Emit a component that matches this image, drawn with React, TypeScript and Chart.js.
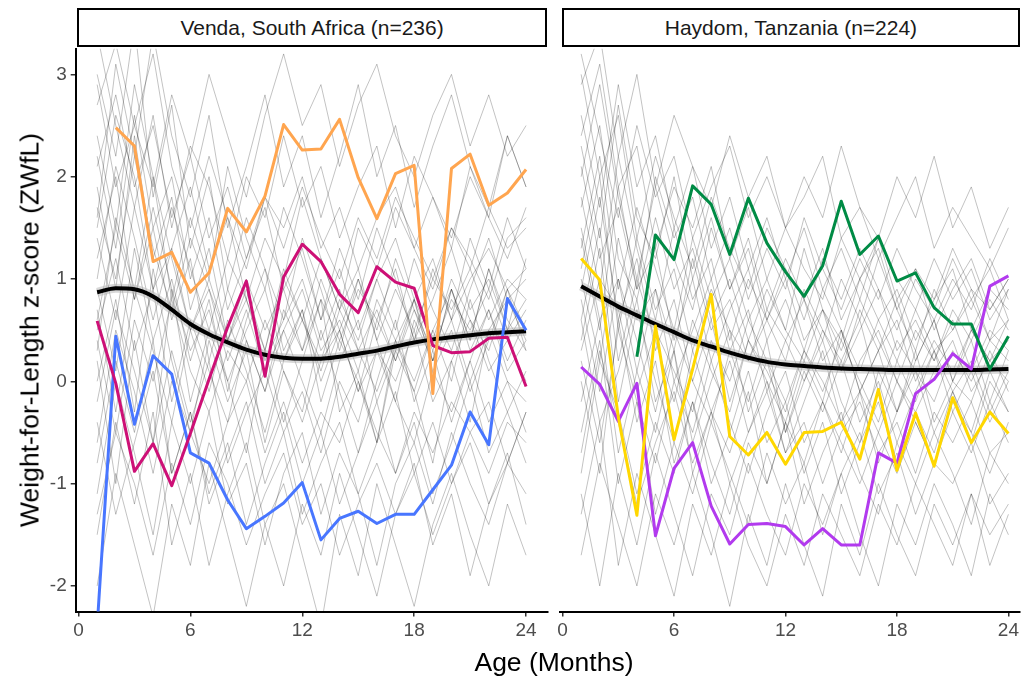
import React, { useEffect, useRef } from "react";
import { Chart, registerables } from "chart.js";
Chart.register(...registerables);

// ---------- data ----------
const months = [1, 2, 3, 4, 5, 6, 7, 8, 9, 10, 11, 12, 13, 14, 15, 16, 17, 18, 19, 20, 21, 22, 23, 24];
const xTicks = [0, 6, 12, 18, 24];
const yTicks = [-2, -1, 0, 1, 2, 3];
const panelTitles = ["Venda, South Africa (n=236)", "Haydom, Tanzania (n=224)"];
const xTitle = "Age (Months)";
const yTitle = "Weight-for-Length z-score (ZWfL)";

// Venda highlighted children
const vendaOrange = [null, 2.48, 2.30, 1.17, 1.26, 0.87, 1.06, 1.69, 1.46, 1.81, 2.51, 2.26, 2.27, 2.56, 1.99, 1.59, 2.03, 2.11, -0.12, 2.08, 2.22, 1.72, 1.84, 2.07];
const vendaMagenta = [0.59, -0.02, -0.88, -0.61, -1.02, -0.51, 0.02, 0.53, 0.98, 0.05, 1.02, 1.34, 1.17, 0.85, 0.67, 1.12, 0.97, 0.91, 0.35, 0.28, 0.29, 0.42, 0.43, -0.05];
const vendaBlue = [-2.4, 0.44, -0.42, 0.25, 0.07, -0.70, -0.80, -1.16, -1.44, -1.32, -1.19, -0.99, -1.55, -1.34, -1.27, -1.39, -1.30, -1.30, -1.06, -0.82, -0.30, -0.62, 0.81, 0.50];
const vendaSmooth = [0.87, 0.91, 0.90, 0.83, 0.70, 0.56, 0.46, 0.38, 0.31, 0.26, 0.23, 0.22, 0.22, 0.24, 0.27, 0.30, 0.34, 0.38, 0.41, 0.43, 0.45, 0.47, 0.48, 0.49];

// Haydom highlighted children
const haydomGreen = [null, null, null, 0.24, 1.43, 1.19, 1.91, 1.73, 1.24, 1.79, 1.35, 1.07, 0.83, 1.13, 1.76, 1.24, 1.42, 0.98, 1.06, 0.72, 0.56, 0.56, 0.12, 0.44];
const haydomYellow = [1.20, 0.99, -0.35, -1.31, 0.54, -0.57, 0.12, 0.85, -0.54, -0.72, -0.50, -0.81, -0.50, -0.49, -0.40, -0.76, -0.08, -0.87, -0.31, -0.83, -0.16, -0.60, -0.30, -0.51];
const haydomPurple = [0.14, -0.03, -0.39, -0.02, -1.51, -0.85, -0.60, -1.22, -1.59, -1.40, -1.39, -1.42, -1.60, -1.44, -1.60, -1.60, -0.70, -0.80, -0.12, 0.02, 0.27, 0.12, 0.93, 1.03];
const haydomSmooth = [0.93, 0.83, 0.73, 0.645, 0.56, 0.48, 0.40, 0.34, 0.28, 0.23, 0.19, 0.165, 0.15, 0.135, 0.125, 0.12, 0.115, 0.11, 0.11, 0.11, 0.11, 0.11, 0.115, 0.12];

// representative background trajectories (estimated)
const vendaGrey = [
  [2.1, 2.8, 1.9, 2.5, 1.6, 2.2, 1.4, 1.9, 1.2, 1.8, 1.5, 2.0, 1.3, 1.7, 1.1, 1.6, 1.9, 1.3, 1.8, 1.4, 2.0, 1.6, 1.2, 1.7],
  [0.5, 1.2, 0.3, 0.9, -0.2, 0.6, 0.1, -0.4, 0.4, -0.1, 0.5, 0.0, -0.5, 0.2, 0.6, -0.2, 0.3, 0.8, 0.1, 0.5, -0.1, 0.4, 0.9, 0.3],
  [-0.8, 0.2, -0.5, 0.4, -0.9, -0.3, -1.1, -0.6, -1.4, -0.8, -0.3, -1.0, -0.5, -1.2, -0.7, -0.2, -0.9, -0.4, -1.1, -0.6, 0.0, -0.7, -0.3, -0.8],
  [1.6, 3.1, 2.2, 3.4, 2.4, 1.8, 2.6, 1.5, 2.1, 2.8, 1.9, 2.4, 1.6, 2.2, 2.9, 2.0, 2.5, 1.7, 2.3, 2.8, 2.1, 1.6, 2.4, 1.9],
  [0.9, 0.1, 1.3, 0.4, 1.0, 0.2, 0.8, -0.1, 0.6, 1.1, 0.3, 0.7, 0.0, 0.5, 1.0, 0.4, -0.2, 0.6, 0.2, 0.9, 0.4, 1.1, 0.5, 0.8],
  [-1.5, -0.4, -1.2, -0.3, -1.6, -0.9, -1.8, -1.1, -0.6, -1.4, -2.0, -1.2, -1.7, -0.9, -1.5, -2.1, -1.3, -0.8, -1.6, -1.1, -1.9, -1.2, -0.7, -1.4],
  [3.0, 2.2, 3.5, 1.8, 2.7, 1.3, 2.0, 0.9, 1.6, 1.1, 0.6, 1.4, 0.9, 0.3, 1.0, 0.5, 1.2, 0.7, 0.2, 0.9, 0.4, 1.1, 0.6, 0.3],
  [0.2, -1.0, 0.4, -0.6, 0.9, -0.2, 0.5, 0.0, -0.7, 0.3, -0.4, 0.2, 0.8, -0.3, 0.1, -0.6, 0.4, -0.1, -0.8, 0.2, -0.4, 0.5, 0.0, -0.5],
  [1.2, 2.0, 0.8, 1.5, 0.6, 1.2, 0.2, 0.9, 0.4, -0.1, 0.7, 0.3, 1.0, 0.5, -0.1, 0.6, 1.1, 0.4, 0.8, 1.3, 0.7, 1.0, 0.5, 1.2],
  [-2.0, -0.9, -1.6, -2.3, -1.2, -1.8, -0.8, -1.5, -2.2, -1.4, -1.0, -1.7, -2.4, -1.3, -1.9, -1.0, -1.6, -2.2, -1.4, -0.9, -1.5, -2.0, -1.2, -1.7],
  [2.4, 1.5, 2.9, 2.0, 0.8, 1.6, 1.0, 2.1, 1.4, 0.9, 1.7, 1.2, 0.6, 1.3, 0.8, 1.5, 1.0, 0.4, 1.1, 0.6, 1.4, 0.9, 1.6, 1.1],
  [0.0, 0.8, -0.3, 1.1, 0.2, -0.5, 0.4, -0.2, 0.3, -0.6, 0.1, -0.3, 0.5, -0.1, -0.7, 0.0, 0.6, -0.2, 0.3, -0.4, 0.2, 0.7, 0.1, 0.4],
  [1.9, 0.9, 2.4, 1.2, 1.8, 0.7, 1.3, 0.4, 0.9, 0.3, 1.1, 0.6, 0.2, 0.8, 0.4, 1.0, 0.5, 1.2, 0.7, 0.3, 0.9, 1.4, 0.8, 1.0],
  [-0.4, -1.3, -0.6, 0.1, -0.9, -0.3, -1.2, -0.7, -0.2, -1.0, -0.5, -1.3, -0.8, -0.4, -1.1, -0.6, -0.1, -0.9, -0.4, -1.0, -0.5, -0.2, -0.8, -0.3],
  [2.7, 3.3, 2.5, 1.9, 2.8, 2.2, 3.0, 2.4, 1.8, 2.6, 3.2, 2.5, 2.9, 2.1, 2.7, 3.1, 2.4, 2.0, 2.6, 3.0, 2.3, 2.8, 2.2, 2.5],
  [0.7, -0.3, 0.9, 0.3, -0.4, 0.5, -0.1, 0.6, 0.1, -0.5, 0.2, 0.7, -0.2, 0.4, 0.0, -0.6, 0.3, -0.1, 0.5, 0.0, 0.8, 0.2, -0.3, 0.1],
  [1.4, 0.6, 1.7, 0.9, 1.3, 1.9, 1.1, 1.6, 0.8, 1.4, 1.0, 1.8, 1.2, 0.7, 1.5, 1.1, 1.7, 1.3, 0.9, 1.5, 1.2, 0.8, 1.4, 1.6],
  [-1.1, 0.0, -0.7, -1.5, -0.4, -1.0, -0.3, -1.2, -0.8, -1.6, -0.9, -0.5, -1.3, -0.7, -1.1, -1.8, -1.0, -0.6, -1.2, -0.5, -1.0, -1.4, -0.8, -0.3],
  [0.3, 1.6, 0.9, 2.0, 1.2, 0.5, 1.0, 0.4, 0.8, 0.2, 0.6, 1.0, 0.4, 0.9, 0.3, 0.7, 0.2, 0.8, 0.4, 1.0, 0.6, 0.3, 0.9, 0.5],
  [3.4, 2.5, 1.7, 2.6, 1.5, 2.3, 1.9, 1.2, 2.0, 1.6, 2.4, 1.7, 2.1, 1.4, 1.9, 2.3, 1.5, 2.2, 1.8, 1.3, 2.1, 1.7, 2.4, 1.9],
  [1.0, 2.1, 1.4, 0.6, 1.3, 0.5, 0.9, 0.2, 0.7, 0.1, 0.5, 0.9, 0.3, 0.6, 0.1, 0.8, 0.4, 0.0, 0.5, 0.9, 0.3, 0.7, 0.2, 0.6],
  [2.2, 1.3, 2.6, 1.5, 2.0, 1.0, 1.6, 0.7, 1.2, 1.7, 0.9, 1.3, 0.6, 1.1, 0.5, 1.0, 1.4, 0.8, 1.2, 0.6, 1.0, 1.3, 0.9, 1.1],
  [-0.2, 0.7, 0.1, -0.6, 0.3, -0.4, 0.2, -0.8, -0.3, 0.1, -0.5, -0.1, -0.7, 0.0, -0.4, 0.3, -0.2, -0.6, 0.1, -0.3, 0.2, -0.4, 0.0, -0.2],
  [0.6, 1.5, 0.8, 1.7, 0.9, 0.3, 0.7, 0.0, 0.5, 0.9, 0.2, 0.6, 0.1, 0.7, 0.3, -0.1, 0.4, 0.8, 0.2, 0.6, 0.0, 0.5, 0.8, 0.4],
  [1.5, 2.6, 2.0, 0.9, 1.7, 1.1, 0.5, 1.2, 0.8, 0.3, 1.0, 0.6, 1.2, 0.7, 1.1, 0.4, 0.9, 0.5, 1.0, 0.7, 1.1, 0.6, 1.0, 0.8],
  [-1.3, -0.5, -1.0, -1.7, -0.8, -1.4, -0.6, -1.0, -1.6, -1.1, -0.7, -1.4, -1.0, -1.7, -1.2, -0.8, -1.3, -0.9, -1.5, -1.0, -0.6, -1.2, -0.8, -1.1],
  [2.9, 1.9, 2.5, 3.2, 2.1, 1.5, 2.2, 1.6, 1.1, 1.8, 1.3, 1.9, 1.4, 1.0, 1.6, 1.2, 1.8, 1.4, 1.0, 1.5, 1.1, 1.7, 1.3, 1.5],
  [0.4, -0.5, 0.6, 0.0, 0.8, 0.1, -0.3, 0.3, 0.0, 0.6, 0.1, -0.4, 0.2, 0.5, -0.1, 0.3, 0.0, 0.5, -0.2, 0.2, 0.6, 0.1, 0.4, 0.0],
  [1.7, 1.0, 2.2, 1.3, 0.7, 1.4, 0.9, 0.4, 1.0, 0.5, 0.9, 0.3, 0.8, 0.4, 0.9, 0.6, 0.2, 0.7, 0.3, 0.8, 0.5, 0.9, 0.4, 0.7],
  [-0.6, 0.5, -0.1, -0.9, 0.0, -0.5, -1.0, -0.4, 0.0, -0.7, -0.2, -0.8, -0.3, -0.6, 0.0, -0.5, -0.9, -0.3, -0.7, -0.2, -0.5, -0.9, -0.4, -0.6],
];
const haydomGrey = [
  [1.8, 0.9, 2.2, 1.3, 0.6, 1.5, 0.8, 1.2, 0.4, 1.0, 0.6, 0.2, 0.9, 0.5, 0.1, 0.7, 0.3, 0.8, 0.2, 0.6, 0.0, 0.5, 0.2, 0.4],
  [0.4, 1.3, -0.2, 0.7, 0.0, -0.6, 0.3, -0.3, 0.2, -0.5, 0.0, -0.7, -0.2, 0.3, -0.4, -0.1, -0.8, -0.3, 0.1, -0.5, -0.1, -0.6, 0.0, -0.3],
  [2.6, 1.7, 2.9, 1.9, 2.4, 1.5, 2.1, 1.3, 1.8, 1.1, 1.6, 1.0, 1.5, 0.9, 1.3, 0.8, 1.4, 1.0, 0.7, 1.2, 0.8, 1.1, 0.6, 0.9],
  [-0.5, 0.4, -1.0, -0.2, -1.3, -0.6, -1.1, -0.4, -0.9, -1.4, -0.7, -1.2, -0.8, -1.5, -0.9, -0.5, -1.1, -0.7, -1.3, -0.8, -1.0, -0.6, -1.2, -0.9],
  [1.1, 2.0, 0.5, 1.4, 0.7, 1.1, 0.3, 0.9, 0.5, 0.2, 0.7, 0.4, 0.0, 0.5, 0.2, 0.6, -0.1, 0.4, 0.1, -0.2, 0.3, 0.0, 0.4, 0.2],
  [3.2, 2.4, 1.6, 2.5, 1.8, 2.2, 1.4, 1.9, 2.3, 1.6, 2.0, 1.5, 1.8, 2.2, 1.4, 1.7, 1.2, 1.6, 2.0, 1.3, 1.7, 1.4, 1.1, 1.5],
  [0.0, -0.9, 0.6, -0.4, 0.2, -0.8, -0.2, -1.0, -0.5, 0.1, -0.6, -0.2, -0.9, -0.4, -1.1, -0.6, -0.2, -0.8, -0.3, -0.7, -0.1, -0.5, -0.9, -0.4],
  [1.5, 0.6, 1.0, 0.1, 0.9, 0.3, 1.2, 0.5, 0.8, 0.2, 0.6, 1.0, 0.4, 0.7, 0.1, 0.5, 0.9, 0.3, 0.6, 0.2, 0.7, 0.4, 0.8, 0.5],
  [-1.3, -0.4, -1.8, -0.9, -1.5, -2.1, -1.2, -1.7, -1.0, -1.6, -2.0, -1.3, -1.8, -1.1, -1.5, -1.9, -1.2, -1.6, -1.0, -1.4, -1.8, -1.1, -1.5, -1.2],
  [2.0, 2.9, 1.8, 1.0, 1.9, 1.2, 0.7, 1.5, 0.9, 1.3, 0.6, 1.1, 0.8, 0.4, 1.0, 0.6, 1.2, 0.7, 0.3, 0.9, 0.5, 0.8, 1.1, 0.6],
  [0.8, -0.1, 1.0, 0.4, -0.3, 0.5, 0.0, -0.4, 0.3, -0.2, 0.4, -0.5, 0.1, -0.3, 0.2, -0.4, 0.0, -0.6, -0.1, 0.3, -0.3, 0.1, -0.4, 0.0],
  [1.3, 2.2, 0.9, 1.7, 1.1, 0.5, 1.4, 0.8, 1.2, 0.6, 1.0, 0.5, 1.3, 0.7, 0.4, 1.0, 0.6, 0.9, 0.4, 0.8, 1.1, 0.5, 0.9, 0.7],
  [-0.2, 0.6, -0.7, 0.1, -0.5, 0.3, -0.9, -0.3, -0.7, -0.1, -1.0, -0.4, -0.8, -0.2, -0.6, -1.0, -0.5, -0.9, -0.4, -0.8, -0.3, -0.7, -0.2, -0.6],
  [2.3, 1.4, 2.7, 1.6, 1.2, 2.0, 1.0, 1.6, 0.9, 1.4, 0.7, 1.2, 0.8, 1.3, 0.6, 1.0, 1.4, 0.8, 1.1, 0.5, 0.9, 1.2, 0.7, 1.0],
  [0.6, 1.5, 0.2, 1.0, 0.4, -0.2, 0.6, 0.1, -0.3, 0.4, 0.0, -0.4, 0.2, -0.2, 0.5, -0.1, 0.3, -0.3, 0.2, 0.6, 0.0, 0.4, -0.2, 0.3],
  [-0.9, 0.2, -0.3, -1.1, -0.4, -0.9, -0.2, -0.8, -1.3, -0.6, -1.0, -0.4, -1.2, -0.7, -0.3, -0.9, -1.3, -0.6, -1.0, -0.5, -0.9, -1.4, -0.7, -1.0],
  [1.7, 2.5, 1.2, 0.8, 1.6, 0.9, 1.3, 0.6, 1.0, 0.4, 0.9, 0.5, 0.2, 0.7, 0.3, 0.8, 0.4, 0.0, 0.5, 0.2, 0.6, 0.1, 0.5, 0.3],
  [2.9, 3.4, 2.2, 3.0, 1.9, 2.6, 2.1, 1.7, 2.4, 1.8, 2.2, 1.5, 2.0, 1.6, 2.3, 1.7, 1.4, 2.0, 1.6, 2.2, 1.5, 1.9, 1.3, 1.7],
  [0.2, -0.6, 0.5, -0.2, -0.8, 0.0, -0.5, 0.2, -0.4, -0.9, -0.3, 0.1, -0.6, -0.2, -0.7, -0.1, -0.5, 0.0, -0.4, -0.8, -0.2, -0.5, 0.1, -0.3],
  [-1.7, -0.8, -1.4, -2.0, -1.1, -1.6, -0.9, -1.5, -2.2, -1.3, -1.8, -1.0, -1.6, -2.1, -1.2, -1.7, -1.0, -1.5, -1.9, -1.2, -1.6, -1.1, -1.8, -1.3],
  [0.9, 1.8, 0.6, 1.2, 0.3, 0.8, 0.0, 0.6, -0.2, 0.4, 0.1, -0.3, 0.3, -0.1, 0.4, 0.0, -0.4, 0.2, -0.2, 0.3, -0.1, 0.2, -0.3, 0.1],
  [1.4, 0.5, 1.9, 0.9, 1.3, 0.4, 1.0, 0.2, 0.7, 1.1, 0.4, 0.8, 0.3, 0.9, 0.5, 0.1, 0.6, 0.2, 0.7, 0.3, 0.5, 0.9, 0.4, 0.6],
  [-0.7, 0.3, -0.4, -1.2, -0.6, -0.1, -0.8, -0.3, -1.0, -0.5, -0.1, -0.7, -0.4, -1.0, -0.5, -0.2, -0.7, -0.4, -0.9, -0.3, -0.6, -0.2, -0.7, -0.5],
  [2.1, 1.2, 1.7, 0.9, 2.0, 1.4, 1.8, 1.0, 1.5, 0.8, 1.3, 0.9, 1.6, 1.1, 0.7, 1.2, 0.8, 1.3, 0.9, 0.6, 1.0, 0.7, 1.2, 0.8],
  [0.3, 1.0, 0.7, -0.1, 0.5, 0.1, -0.3, 0.4, 0.0, 0.6, 0.2, -0.2, 0.3, 0.0, -0.4, 0.2, 0.5, 0.0, -0.3, 0.1, 0.4, -0.1, 0.2, 0.0],
  [3.0, 2.0, 2.6, 1.4, 2.2, 1.6, 1.1, 1.8, 1.3, 0.9, 1.5, 1.1, 0.6, 1.2, 0.8, 1.3, 0.9, 0.5, 1.0, 0.7, 1.2, 0.8, 0.4, 0.9],
  [-1.1, -2.0, -0.9, -1.6, -0.7, -1.3, -1.9, -1.1, -1.5, -0.8, -1.3, -1.7, -1.0, -1.4, -0.9, -1.5, -2.0, -1.2, -1.6, -1.0, -1.4, -1.9, -1.1, -1.5],
  [1.0, 0.2, 1.4, 0.6, 0.9, 0.0, 0.5, 1.0, 0.3, 0.7, -0.1, 0.4, 0.8, 0.2, 0.5, -0.1, 0.3, 0.6, 0.0, 0.4, 0.1, 0.5, 0.2, 0.6],
  [0.6, -0.4, 0.1, 0.8, -0.2, 0.3, -0.6, 0.0, 0.5, -0.3, 0.2, -0.5, 0.0, 0.4, -0.2, -0.6, 0.1, -0.3, 0.3, -0.4, 0.0, -0.2, 0.3, -0.1],
  [2.4, 3.1, 1.9, 2.3, 1.3, 1.9, 1.5, 2.1, 1.2, 1.7, 1.0, 1.5, 1.1, 0.8, 1.4, 1.0, 1.3, 0.7, 1.1, 0.8, 1.3, 0.9, 0.7, 1.0],
];

// ---------- styling ----------
const FONT = "'Liberation Sans', Arial, Helvetica, sans-serif";
const Y_MIN = -2.25;
const Y_MAX = 3.25;
const X_MIN = -0.15;

function pts(vals: (number | null)[]) {
  return months.map((m, i) => ({ x: m, y: vals[i] }));
}

type Highlight = { vals: (number | null)[]; color: string };

function buildDatasets(grey: number[][], smooth: number[], highlights: Highlight[]) {
  const ds: any[] = [];
  highlights.forEach((h) => {
    ds.push({ data: pts(h.vals), borderColor: h.color, borderWidth: 3, order: 0, tension: 0 });
  });
  ds.push({ data: pts(smooth), borderColor: "#000000", borderWidth: 4, order: 1, cubicInterpolationMode: "monotone" });
  ds.push({ data: pts(smooth), borderColor: "rgba(170,170,170,0.45)", borderWidth: 9, order: 2, cubicInterpolationMode: "monotone" });
  grey.forEach((g) => {
    ds.push({ data: pts(g), borderColor: "rgba(0,0,0,0.24)", borderWidth: 1, order: 3, tension: 0 });
  });
  return ds;
}

function makeOptions(showY: boolean, xMax: number, padLeft: number, padRight: number): any {
  return {
    responsive: false,
    animation: false,
    events: [],
    layout: { padding: { top: 48.8, left: padLeft, right: padRight, bottom: 0 } },
    plugins: { legend: { display: false }, tooltip: { enabled: false } },
    elements: { point: { radius: 0 }, line: { fill: false, borderCapStyle: "butt", borderJoinStyle: "round" } },
    datasets: { line: { clip: 0, spanGaps: false } },
    scales: {
      x: {
        type: "linear",
        min: X_MIN,
        max: xMax,
        afterBuildTicks: (s: any) => { s.ticks = xTicks.map((v) => ({ value: v })); },
        afterFit: (s: any) => { s.height = 679 - 611.5; },
        border: { display: true, color: "#000000", width: 2 },
        grid: { display: true, drawOnChartArea: false, drawTicks: true, tickLength: 5, color: "#333333", lineWidth: 1.5 },
        ticks: { color: "#4D4D4D", font: { family: FONT, size: 19 }, padding: 3, maxRotation: 0 },
      },
      y: {
        type: "linear",
        display: showY,
        min: Y_MIN,
        max: Y_MAX,
        afterBuildTicks: (s: any) => { s.ticks = yTicks.map((v) => ({ value: v })); },
        afterFit: (s: any) => { s.width = showY ? 75.7 : 0; },
        border: { display: true, color: "#000000", width: 2 },
        grid: { display: true, drawOnChartArea: false, drawTicks: true, tickLength: 5, color: "#333333", lineWidth: 1.5 },
        ticks: { color: "#4D4D4D", font: { family: FONT, size: 19 }, padding: 4 },
      },
    },
  };
}

function Panel(props: { left: number; width: number; showY: boolean; xMax: number; padLeft: number; padRight: number; grey: number[][]; smooth: number[]; highlights: Highlight[] }) {
  const ref = useRef<HTMLCanvasElement | null>(null);
  useEffect(() => {
    if (!ref.current) return;
    const chart = new Chart(ref.current, {
      type: "line",
      data: { datasets: buildDatasets(props.grey, props.smooth, props.highlights) },
      options: makeOptions(props.showY, props.xMax, props.padLeft, props.padRight),
    });
    return () => chart.destroy();
  }, []);
  return (
    <canvas
      ref={ref}
      width={props.width}
      height={679}
      style={{ position: "absolute", left: props.left, top: 0, width: props.width, height: 679 }}
    />
  );
}

const stripStyle: React.CSSProperties = {
  position: "absolute",
  top: 8,
  height: 39,
  boxSizing: "border-box",
  border: "2px solid #000",
  background: "#fff",
  display: "flex",
  alignItems: "center",
  justifyContent: "center",
  fontFamily: FONT,
  fontSize: 21,
  color: "#1A1A1A",
  whiteSpace: "nowrap",
};

export default function App() {
  return (
    <div style={{ position: "absolute", left: 0, top: 0, width: 1022, height: 679, overflow: "hidden", background: "#fff" }}>
      <Panel
        left={0}
        width={553}
        showY={true}
        xMax={25.15}
        padLeft={0}
        padRight={5.5}
        grey={vendaGrey}
        smooth={vendaSmooth}
        highlights={[
          { vals: vendaOrange, color: "#FFA54F" },
          { vals: vendaMagenta, color: "#CD1076" },
          { vals: vendaBlue, color: "#4876FF" },
        ]}
      />
      <Panel
        left={553}
        width={469}
        showY={false}
        xMax={24.6}
        padLeft={6.8}
        padRight={0}
        grey={haydomGrey}
        smooth={haydomSmooth}
        highlights={[
          { vals: haydomGreen, color: "#008B45" },
          { vals: haydomYellow, color: "#FFD700" },
          { vals: haydomPurple, color: "#B23AEE" },
        ]}
      />
      <div style={{ ...stripStyle, left: 76.8, width: 470.5 }}>{panelTitles[0]}</div>
      <div style={{ ...stripStyle, left: 561.7, width: 458.5 }}>{panelTitles[1]}</div>
      <div
        style={{
          position: "absolute",
          left: 554,
          top: 662,
          transform: "translate(-50%, -50%)",
          fontFamily: FONT,
          fontSize: 26.5,
          color: "#000",
          whiteSpace: "nowrap",
        }}
      >
        {xTitle}
      </div>
      <div
        style={{
          position: "absolute",
          left: 30,
          top: 330,
          transform: "translate(-50%, -50%) rotate(-90deg)",
          fontFamily: FONT,
          fontSize: 26.5,
          color: "#000",
          whiteSpace: "nowrap",
        }}
      >
        {yTitle}
      </div>
    </div>
  );
}
